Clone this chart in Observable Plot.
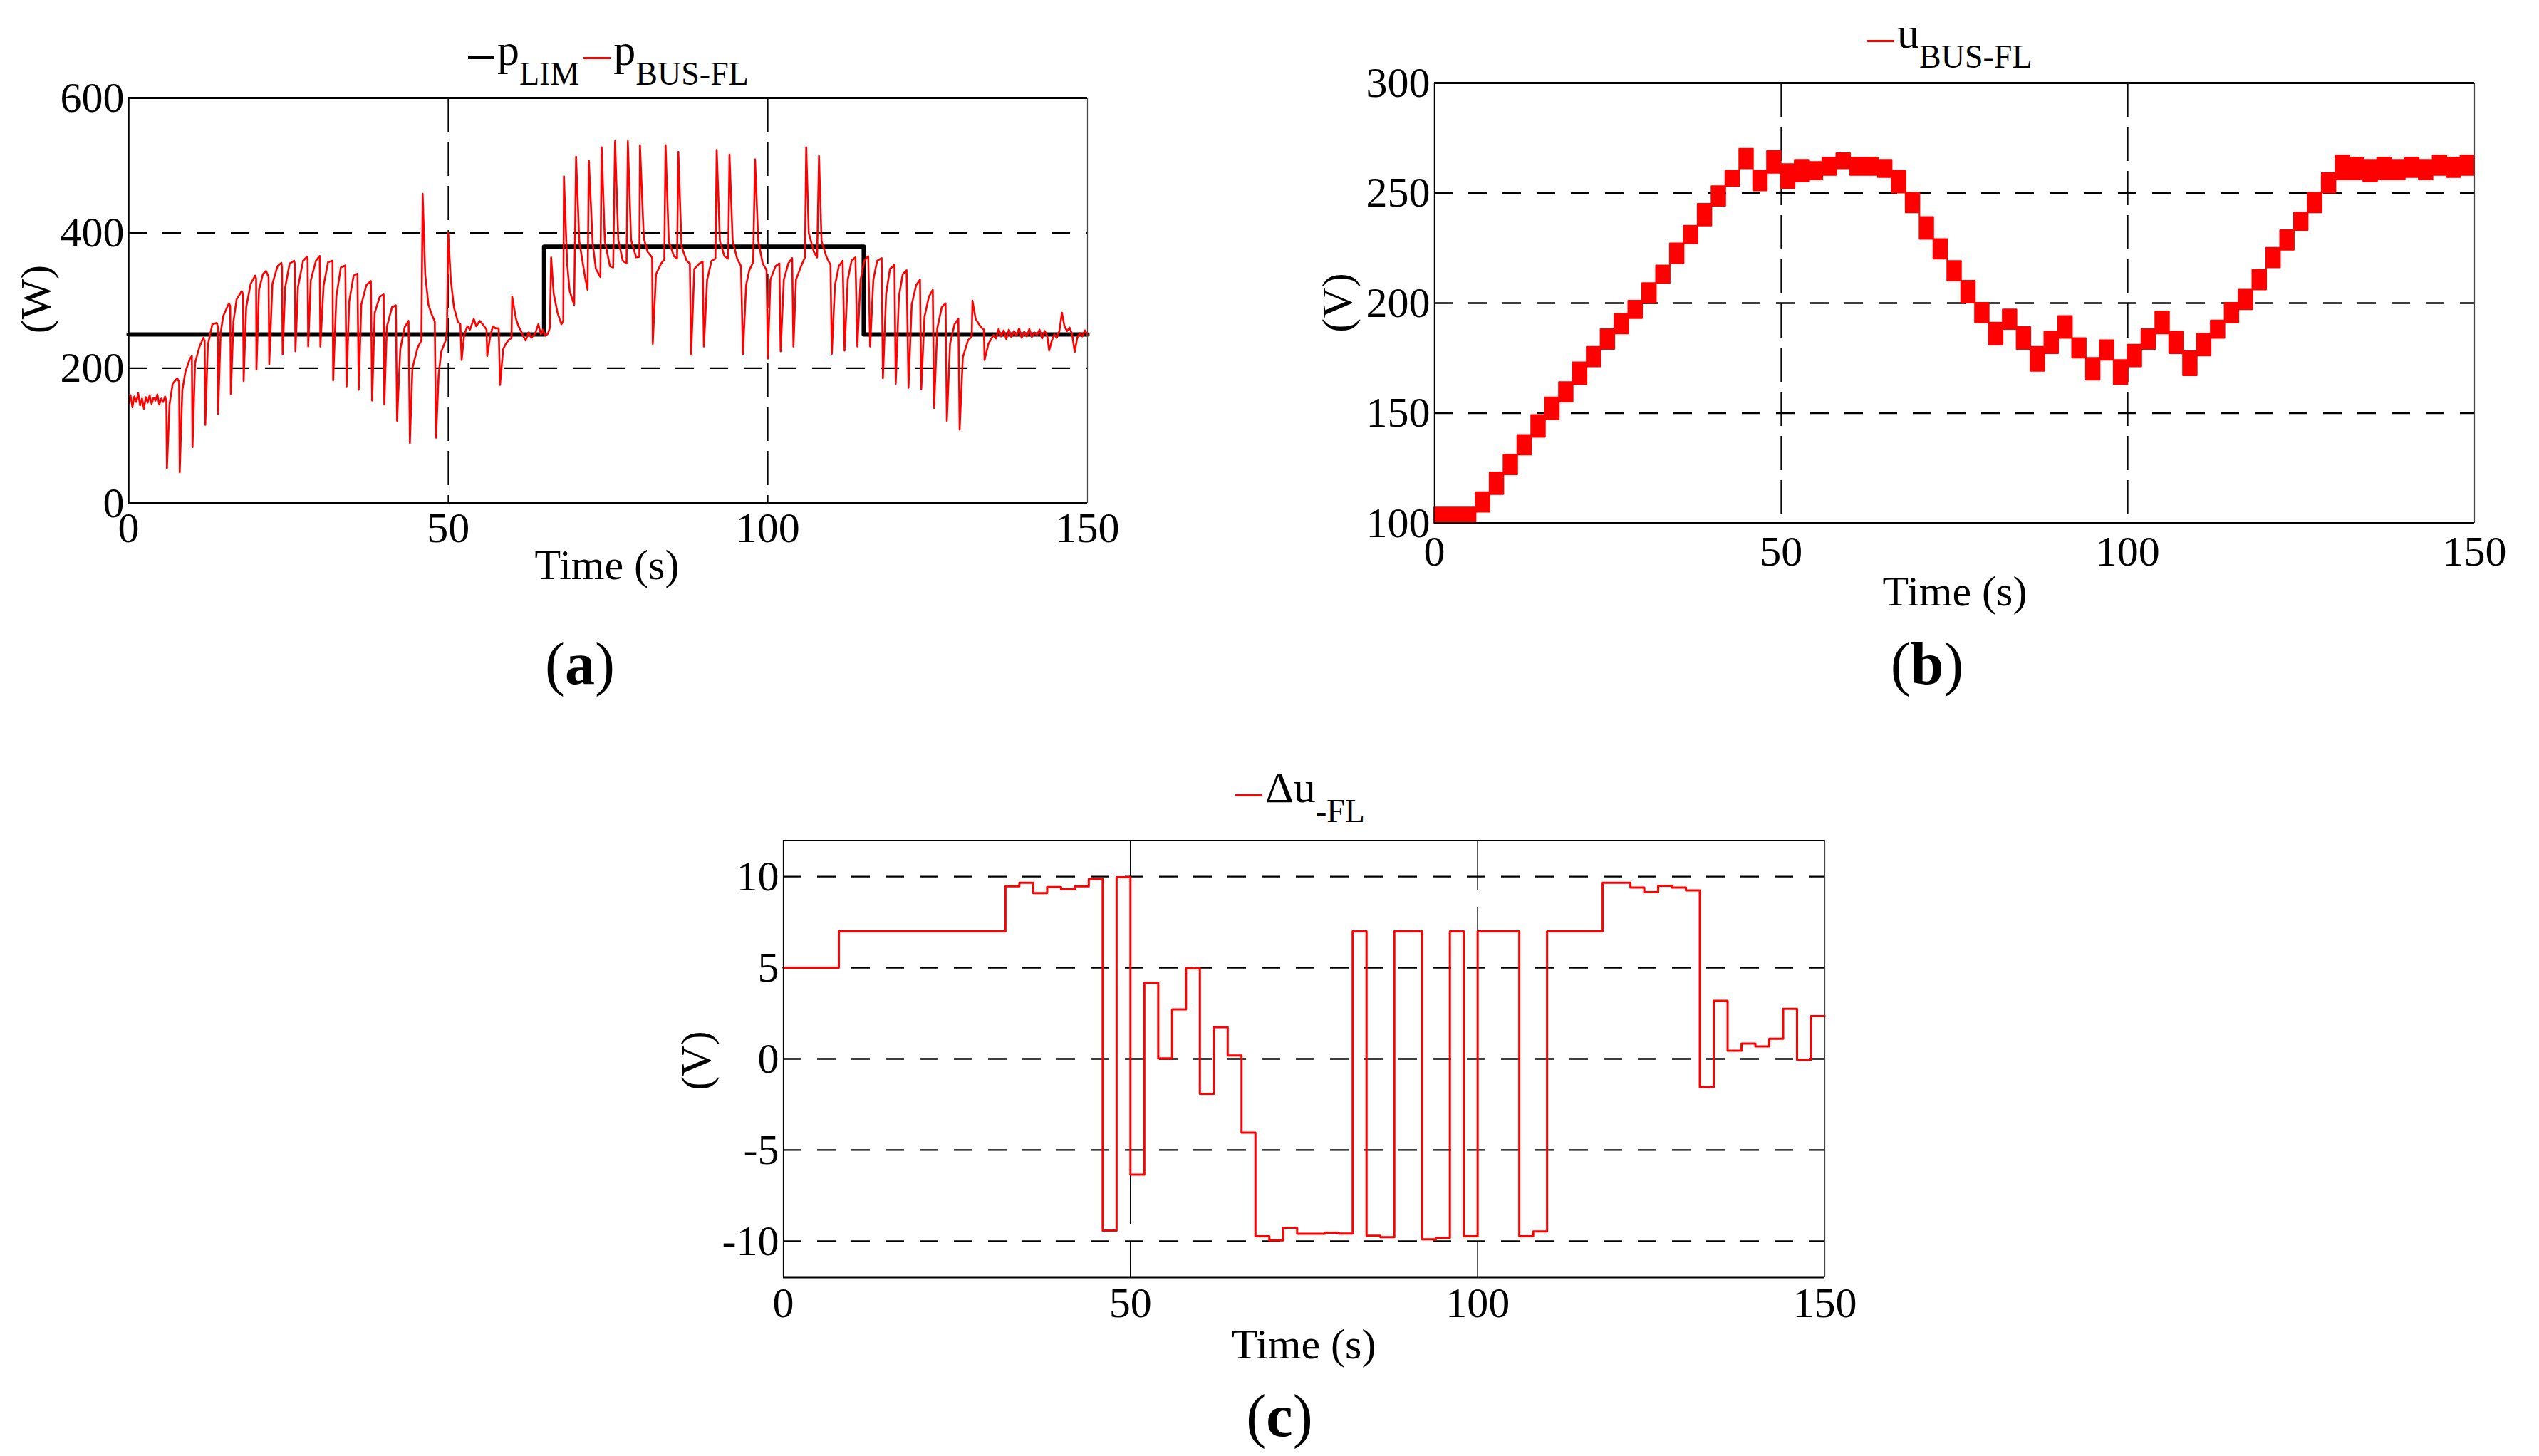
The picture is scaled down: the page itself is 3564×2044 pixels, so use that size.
<!DOCTYPE html>
<html><head><meta charset="utf-8">
<script src="https://cdn.jsdelivr.net/npm/d3@7"></script>
<script src="https://cdn.jsdelivr.net/npm/@observablehq/plot@0.6"></script>
<style>
html,body{margin:0;padding:0;background:#fff;}
#root{position:relative;width:3564px;height:2044px;background:#fff;font-family:"Liberation Serif","Times New Roman",serif;color:#000;overflow:hidden;}
.abs{position:absolute;}
.lbl{position:absolute;white-space:nowrap;font-size:60px;line-height:1;transform:translate(-50%,-50%);}
.ylbl{position:absolute;white-space:nowrap;font-size:60px;line-height:1;transform:translate(-50%,-50%) rotate(-90deg);}
.cap{position:absolute;white-space:nowrap;font-size:84px;line-height:0.9;transform:translate(-50%,-50%);}
.legend{position:absolute;white-space:nowrap;font-size:62px;line-height:1;}
.legend .sub{font-size:46px;vertical-align:-28px;}
.dash{display:inline-block;vertical-align:8px;}
</style>
</head><body>
<div id="root"></div>
<script>
// ---------- shared ----------
const timeTicks = [0, 50, 100, 150];
const timeGrid = [50, 100];

// ---------- panel (a) ----------
const aYTicks = [0, 200, 400, 600];
const aYGrid = [200, 400];
const limT = [0, 65, 115, 150];
const limP = [250, 380, 250, 250];
const busT = [0,0.3,0.6,0.9,1.2,1.5,1.8,2.1,2.4,2.7,3,3.3,3.6,3.9,4.2,4.5,4.8,5.1,5.4,5.7,5.9,
6.0,6.4,6.9,7.6,7.9,8.0,8.4,8.9,9.6,9.9,10.0,10.4,11.1,11.7,11.9,12.0,12.4,13.1,13.8,13.95,14.0,14.4,14.8,15.7,15.9,16.0,16.4,16.9,17.7,17.9,18.0,18.4,19.1,19.8,19.95,20.0,20.4,21.0,21.5,21.9,22.0,22.5,23.3,23.9,24.0,24.1,24.5,25.2,25.9,26.0,26.1,26.5,27.3,27.9,28.0,28.1,28.5,29.3,29.9,30.0,30.5,31.2,31.9,32.0,32.5,33.2,33.9,34.1,34.5,35.2,35.8,36.0,36.4,37.2,37.9,38.1,38.5,39.3,39.9,40.0,40.4,41.2,41.8,42.0,42.5,43.2,43.8,44.0,44.4,45.2,45.8,
46.0,46.4,46.9,47.4,47.9,48.1,48.5,48.9,49.6,49.8,50.0,50.4,50.9,51.5,51.9,52.1,52.5,53.0,53.4,54.0,54.4,54.9,55.4,56.0,56.1,56.6,57.0,57.4,57.9,58.1,58.6,59.0,59.4,59.9,60.0,60.6,61.0,61.3,61.7,62.1,62.6,63.0,63.6,64.1,64.5,64.8,65.2,65.6,65.9,
66.1,66.5,67.1,67.7,68.0,68.1,68.6,69.0,69.7,70.0,70.5,71.4,71.8,72.0,72.6,73.1,73.8,74.0,74.5,75.3,75.8,76.1,76.6,77.3,77.9,78.1,78.6,79.4,79.9,80.0,80.6,81.2,81.9,82.0,82.5,83.3,83.8,84.0,84.5,85.3,85.8,86.0,86.5,87.3,87.8,88.0,88.5,89.3,89.8,90.0,90.5,91.2,91.8,92.0,92.5,93.2,93.8,94.0,94.5,95.2,95.8,96.1,96.6,97.1,97.7,98.0,98.5,99.2,99.8,100.0,100.4,101.2,101.8,102.0,102.5,103.2,103.8,104.0,104.4,105.2,105.8,106.0,106.4,107.2,107.7,108.0,108.4,109.2,109.8,110.0,110.5,111.1,111.7,112.0,112.5,113.1,113.7,114.0,114.5,115.1,115.7,116.0,116.5,117.1,117.8,
118.0,118.5,119.1,119.8,120.0,120.5,121.1,121.7,122.0,122.5,123.2,123.8,124.0,124.5,125.2,125.8,126.0,126.5,127.2,127.8,128.0,128.5,129.2,129.8,130.0,130.5,131.3,131.9,132.0,132.5,133.3,133.8,133.9,134.5,135.3,
135.7,136.1,136.5,136.9,137.3,137.7,138.1,138.5,138.9,139.3,139.7,140.1,140.5,140.9,141.3,141.7,142.1,142.5,142.9,143.3,143.7,144.0,144.4,144.8,145.2,145.6,146.0,146.4,146.8,147.2,147.6,148.0,148.4,148.8,149.2,149.6,150];
const busP = [148,160,142,158,150,163,145,155,140,157,149,160,147,156,152,161,146,155,150,158,152,
52,146,177,185,180,46,167,195,214,218,83,208,232,245,240,116,234,265,267,262,132,252,277,296,292,161,269,302,314,310,181,290,325,337,333,198,316,339,344,335,206,325,351,356,350,221,320,355,359,355,225,320,359,365,360,232,330,359,366,232,322,357,359,182,306,349,352,173,298,337,340,168,294,323,329,152,282,306,309,146,261,290,293,122,228,261,270,89,200,230,241,
458,339,294,280,269,97,190,224,241,257,400,331,290,269,265,212,249,262,257,273,262,270,265,257,218,249,262,259,259,175,228,236,241,245,306,273,262,257,248,241,253,245,251,265,250,257,248,251,260,
364,310,282,265,270,484,355,314,294,513,388,335,316,507,384,347,335,527,388,351,349,536,390,359,355,536,390,364,365,530,392,372,364,236,339,355,361,530,388,366,362,520,380,359,355,220,347,355,358,232,331,359,362,523,388,366,362,516,388,362,351,221,323,345,357,509,388,355,345,214,331,351,355,225,331,355,363,232,331,351,364,527,400,372,364,514,388,364,353,221,323,351,359,226,331,359,364,232,331,359,366,232,331,359,363,
185,310,347,353,177,306,339,345,171,294,323,331,169,276,306,316,141,259,290,296,122,236,265,273,109,216,241,247,300,273,261,257,212,236,249,
244,258,247,256,243,257,246,255,248,259,245,254,247,258,246,253,249,257,244,255,248,226,240,250,245,255,282,262,255,260,250,224,245,252,247,256,249];

// ---------- panel (b) ----------
const bYTicks = [100, 150, 200, 250, 300];
const bYGrid = [150, 200, 250];
const bT  = [0,6,8,10,12,14,16,18,20,22,24,26,28,30,32,34,36,38,40,42,44,46,48,50,52,54,56,58,60,62,64,66,68,70,72,74,76,78,80,82,84,86,88,90,92,94,96,98,100,102,104,106,108,110,112,114,116,118,120,122,124,126,128,130,132,134,136,138,140,142,144,146,148,150];
const bLo = [100,105,113,122,131,139,147,155,163,171,179,186,193,200,209,218,227,235,244,253,261,251,259,252,255,256,258,261,258,258,257,250,241,229,220,210,200,191,181,188,179,169,177,184,175,165,174,163,171,179,186,177,167,176,184,191,197,206,216,224,233,241,250,256,256,255,256,256,257,256,258,257,258,258];
const bHi = [107,114,123,131,140,149,157,164,173,180,188,195,201,209,217,227,235,245,253,260,270,260,269,263,265,264,266,268,266,266,265,260,250,239,229,219,210,200,191,197,189,180,187,194,184,175,183,174,181,188,196,187,178,186,192,200,206,215,225,233,241,250,259,267,266,265,266,265,266,265,267,266,267,267];

// ---------- panel (c) ----------
const cYTicks = [-10, -5, 0, 5, 10];
const cYGrid = [-10, -5, 0, 5, 10];
const cT = [0,8,32,34,36,38,40,42,44,46,48,50,52,54,56,58,60,62,64,66,68,70,72,74,78,80,82,84,86,88,92,94,96,98,100,106,108,110,118,122,124,126,128,130,132,134,136,138,140,142,144,146,148,150];
const cV = [5,7,9.47,9.66,9.1,9.43,9.31,9.47,9.87,-9.42,9.97,-6.35,4.17,0.03,2.72,4.97,-1.92,1.74,0.19,-4.05,-9.73,-9.96,-9.26,-9.6,-9.54,-9.59,7,-9.7,-9.78,7,-9.9,-9.82,7,-9.73,7,-9.73,-9.47,7,9.66,9.4,9.15,9.5,9.4,9.24,-1.55,3.19,0.45,0.84,0.68,1.1,2.75,-0.05,2.35,2.35];

// ---------- tables ----------
const limData = limT.map((t, i) => ({t, v: limP[i]}));
const busData = busT.map((t, i) => ({t, v: busP[i]}));
const bData = bT.map((t, i) => ({t, lo: bLo[i], hi: bHi[i]}));
const cData = cT.map((t, i) => ({t, v: cV[i]}));

const FONT = '"Liberation Serif", "Times New Roman", serif';
const root = document.getElementById("root");

function makePanel(o) {
  const xDom = [0, 150];
  const marks = [
    Plot.ruleX(timeGrid, {stroke: "#000", strokeWidth: 1.6, strokeDasharray: o.vDash}),
    Plot.ruleY(o.yGrid, {stroke: "#000", strokeWidth: 2.4, strokeDasharray: "26,22"}),
    ...o.marks,
    Plot.ruleY([o.yDom[1]], {stroke: "#000", strokeWidth: o.topW}),
    Plot.ruleY([o.yDom[0]], {stroke: "#000", strokeWidth: o.botW}),
    Plot.ruleX([xDom[0]], {stroke: "#000", strokeWidth: o.leftW}),
    Plot.ruleX([xDom[1]], {stroke: "#444", strokeWidth: 1.2})
  ];
  const svg = Plot.plot({
    width: o.width, height: o.height,
    marginLeft: o.ml, marginRight: o.mr, marginTop: o.mt, marginBottom: o.mb,
    x: {domain: xDom, ticks: timeTicks, tickSize: 0, tickPadding: o.xPad, label: null, tickFormat: d => String(d)},
    y: {domain: o.yDom, ticks: o.yTicks, tickSize: 0, tickPadding: 6, label: null, tickFormat: d => String(d)},
    style: {fontFamily: FONT, fontSize: "60px", background: "transparent", color: "#000", overflow: "visible"},
    marks
  });
  const div = document.createElement("div");
  div.className = "abs";
  div.style.left = o.left + "px";
  div.style.top = o.top + "px";
  div.appendChild(svg);
  root.appendChild(div);
}

// (a)
makePanel({
  left: 0, top: 0, width: 1600, height: 900, ml: 180, mr: 74, mt: 137, mb: 194,
  yDom: [0, 600], yTicks: aYTicks, yGrid: aYGrid, xPad: 12, vDash: "48,14",
  topW: 3, botW: 3, leftW: 2.5,
  marks: [
    Plot.line(limData, {x: "t", y: "v", curve: "step-after", stroke: "#000", strokeWidth: 6}),
    Plot.line(busData, {x: "t", y: "v", stroke: "#ff0000", strokeWidth: 2.6})
  ]
});
// (b)
makePanel({
  left: 1900, top: 0, width: 1664, height: 900, ml: 113, mr: 91, mt: 116, mb: 166,
  yDom: [100, 300], yTicks: bYTicks, yGrid: bYGrid, xPad: 17, vDash: "48,14",
  topW: 3, botW: 3, leftW: 1.5,
  marks: [
    Plot.areaY(bData, {x: "t", y1: "lo", y2: "hi", curve: "step-after", fill: "#ff0000", stroke: "#ff0000", strokeWidth: 2})
  ]
});
// (c)
makePanel({
  left: 900, top: 1050, width: 1800, height: 900, ml: 199, mr: 139, mt: 129, mb: 157,
  yDom: [-12, 12], yTicks: cYTicks, yGrid: cYGrid, xPad: 13, vDash: "70,24",
  topW: 1.2, botW: 2.2, leftW: 1.2,
  marks: [
    Plot.line(cData, {x: "t", y: "v", curve: "step-after", stroke: "#ff0000", strokeWidth: 3})
  ]
});

// ---------- texts ----------
function addText(cls, x, y, html) {
  const d = document.createElement("div");
  d.className = cls;
  d.style.left = x + "px";
  d.style.top = y + "px";
  d.innerHTML = html;
  root.appendChild(d);
}
addText("lbl", 852, 793, "Time (s)");
addText("lbl", 2744, 830, "Time (s)");
addText("lbl", 1830, 1887, "Time (s)");
addText("ylbl", 50, 420, "(W)");
addText("ylbl", 1877, 425, "(V)");
addText("ylbl", 977, 1489, "(V)");
addText("cap", 814, 932, "(<b>a</b>)");
addText("cap", 2705, 932, "(<b>b</b>)");
addText("cap", 1796, 1988, "(<b>c</b>)");

function legend(x, top, html) {
  const d = document.createElement("div");
  d.className = "legend";
  d.style.left = x + "px";
  d.style.top = top + "px";
  d.innerHTML = html;
  root.appendChild(d);
}
const blackDash = '<span class="dash" style="width:36px;height:5px;background:#000;margin-right:5px"></span>';
const redDash = '<span class="dash" style="width:38px;height:3px;background:#ff0000;margin-right:4px"></span>';
legend(657, 39, blackDash + 'p<span class="sub">LIM</span>' + '<span style="display:inline-block;width:6px"></span>' + redDash + 'p<span class="sub">BUS-FL</span>');
legend(2621, 15, redDash + 'u<span class="sub">BUS-FL</span>');
legend(1734, 1074, redDash + 'Δu<span class="sub">-FL</span>');
</script>
</body></html>
